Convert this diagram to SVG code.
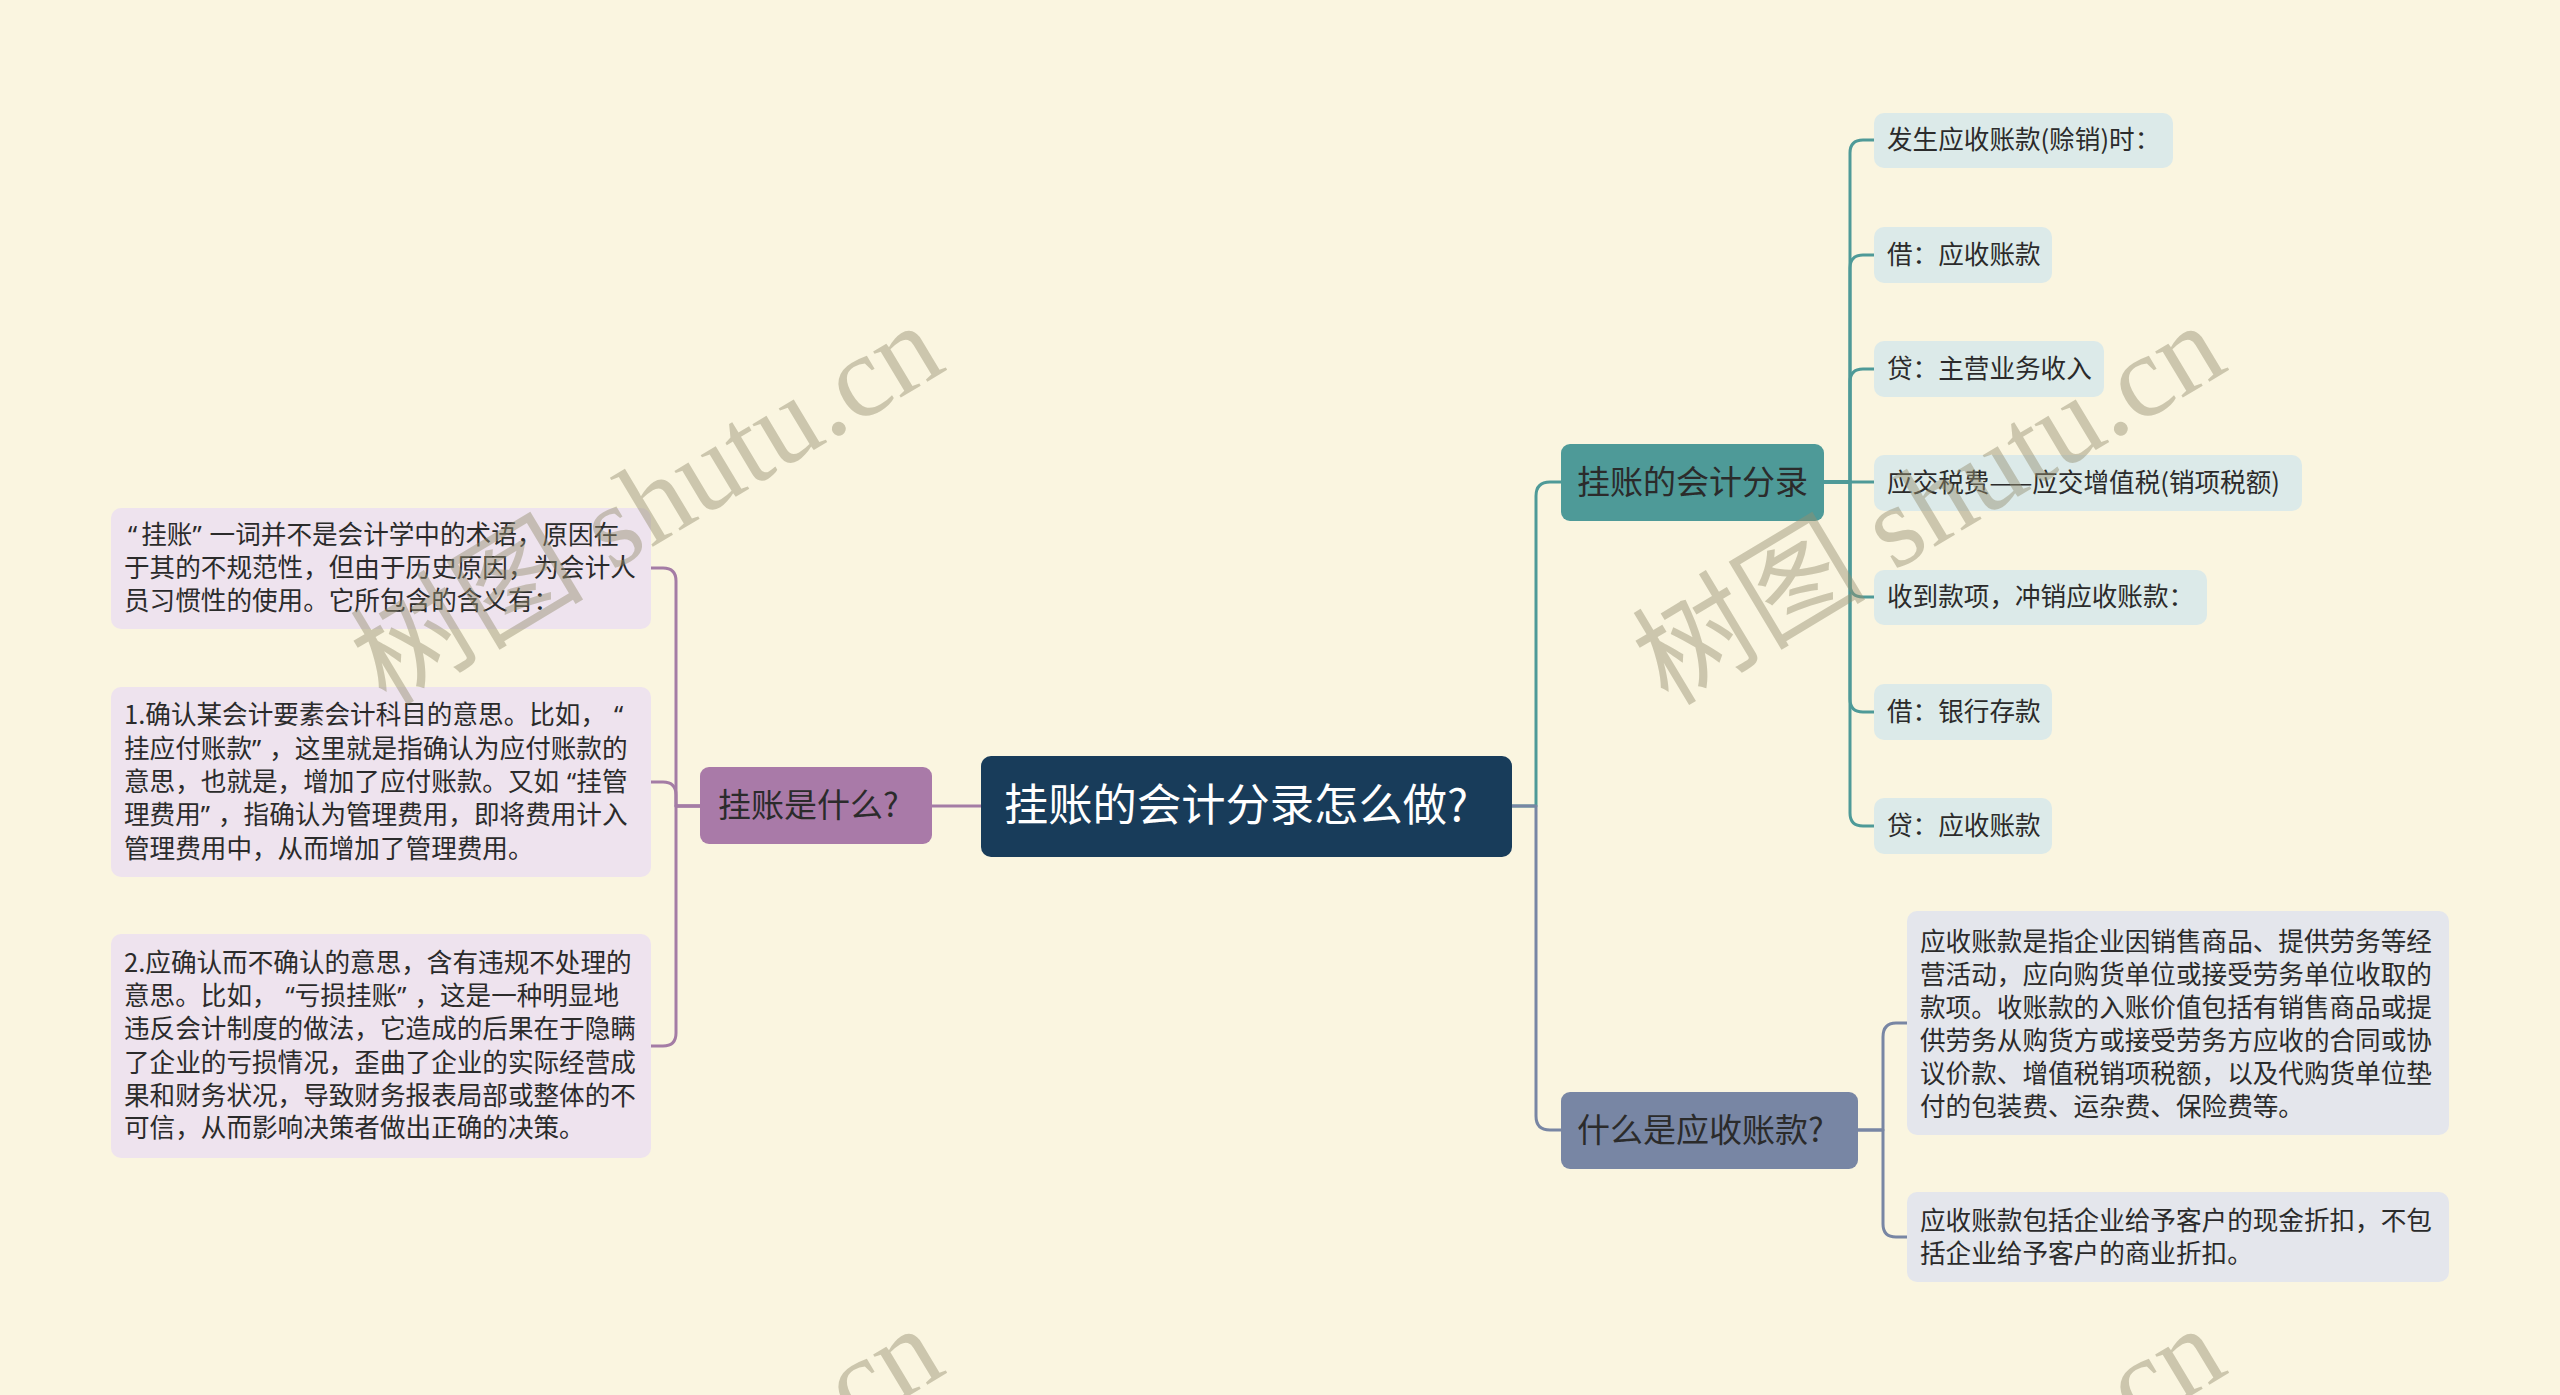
<svg xmlns="http://www.w3.org/2000/svg" width="2560" height="1395" viewBox="0 0 2560 1395">
<defs>
<style>
.bg{fill:#FAF5E0}
.c{fill:none;stroke-width:3;stroke-linejoin:round}
.cp{stroke:#A47CA5}
.ct{stroke:#4E9A98}
.cs{stroke:#7886A4}
.t{font-family:"Noto Sans CJK SC","Noto Sans",sans-serif;fill:#2B2B2B}
.q{font-family:"Noto Sans","Noto Sans CJK SC",sans-serif;letter-spacing:8px}
.qo{font-family:"Noto Sans","Noto Sans CJK SC",sans-serif}
.leaf{font-size:25.6px}
.mid{font-size:33px}
.root{font-size:44.3px;fill:#FFFFFF}
.lp{fill:#EEE3EE}
.lt{fill:#DCEAE9}
.ls{fill:#E4E6EC}
.wm{font-family:"Liberation Serif","Noto Sans CJK SC",serif;font-size:117px;fill:#958F70;opacity:0.45}
</style>
<g id="wmark"><text class="wm" x="0" y="0" transform="rotate(-31)">树图 shutu.cn</text></g>
</defs>
<rect class="bg" x="0" y="0" width="2560" height="1395"/>

<g id="connectors">
<path class="c cp" d="M981,806 L932,806"/>
<path class="c cp" d="M700,806 L676,806 L676,581 Q676,568 663,568 L651,568"/>
<path class="c cp" d="M700,806 L676,806 L676,795 Q676,782 663,782 L651,782"/>
<path class="c cp" d="M700,806 L676,806 L676,1033 Q676,1046 663,1046 L651,1046"/>

<path class="c ct" d="M1512,806 L1536,806 L1536,496 Q1536,482 1550,482 L1561,482"/>
<path class="c cs" d="M1512,806 L1536,806 L1536,1116 Q1536,1130 1550,1130 L1561,1130"/>

<path class="c ct" d="M1824,482 L1850,482 L1850,153 Q1850,140 1863,140 L1874,140"/>
<path class="c ct" d="M1824,482 L1850,482 L1850,268 Q1850,255 1863,255 L1874,255"/>
<path class="c ct" d="M1824,482 L1850,482 L1850,382 Q1850,369 1863,369 L1874,369"/>
<path class="c ct" d="M1824,482 L1874,482"/>
<path class="c ct" d="M1824,482 L1850,482 L1850,584 Q1850,597 1863,597 L1874,597"/>
<path class="c ct" d="M1824,482 L1850,482 L1850,699 Q1850,712 1863,712 L1874,712"/>
<path class="c ct" d="M1824,482 L1850,482 L1850,813 Q1850,826 1863,826 L1874,826"/>

<path class="c cs" d="M1858,1130 L1883,1130 L1883,1037 Q1883,1023 1896,1023 L1907,1023"/>
<path class="c cs" d="M1858,1130 L1883,1130 L1883,1224 Q1883,1237 1896,1237 L1907,1237"/>
</g>

<g id="root">
<rect x="981" y="756" width="531" height="101" rx="10" fill="#183C5A"/>
<text class="t root" x="1004" y="821">挂账的会计分录怎么做?</text>
</g>

<g id="n-left">
<rect x="700" y="767" width="232" height="77" rx="9" fill="#A97AA8"/>
<text class="t mid" x="718" y="817">挂账是什么?</text>
</g>

<g id="l1">
<rect class="lp" x="111" y="508" width="540" height="121" rx="10"/>
<text class="t leaf" x="124" y="544"><tspan class="qo" dx="4">“</tspan><tspan dx="4">挂账</tspan><tspan class="q">”</tspan>一词并不是会计学中的术语，原因在</text>
<text class="t leaf" x="124" y="577">于其的不规范性，但由于历史原因，为会计人</text>
<text class="t leaf" x="124" y="610">员习惯性的使用。它所包含的含义有：</text>
</g>
<g id="l2">
<rect class="lp" x="111" y="687" width="540" height="190" rx="10"/>
<text class="t leaf" x="124" y="724">1.确认某会计要素会计科目的意思。比如，<tspan class="qo" dx="8">“</tspan></text>
<text class="t leaf" x="124" y="758">挂应付账款<tspan class="q">”</tspan>，这里就是指确认为应付账款的</text>
<text class="t leaf" x="124" y="791">意思，也就是，增加了应付账款。又如<tspan class="qo" dx="8">“</tspan>挂管</text>
<text class="t leaf" x="124" y="824">理费用<tspan class="q">”</tspan>，指确认为管理费用，即将费用计入</text>
<text class="t leaf" x="124" y="858">管理费用中，从而增加了管理费用。</text>
</g>
<g id="l3">
<rect class="lp" x="111" y="934" width="540" height="224" rx="10"/>
<text class="t leaf" x="124" y="972">2.应确认而不确认的意思，含有违规不处理的</text>
<text class="t leaf" x="124" y="1005">意思。比如，<tspan class="qo" dx="8">“</tspan>亏损挂账<tspan class="q">”</tspan>，这是一种明显地</text>
<text class="t leaf" x="124" y="1038">违反会计制度的做法，它造成的后果在于隐瞒</text>
<text class="t leaf" x="124" y="1072">了企业的亏损情况，歪曲了企业的实际经营成</text>
<text class="t leaf" x="124" y="1105">果和财务状况，导致财务报表局部或整体的不</text>
<text class="t leaf" x="124" y="1137">可信，从而影响决策者做出正确的决策。</text>
</g>

<g id="n-r1">
<rect x="1561" y="444" width="263" height="77" rx="9" fill="#4E9A98"/>
<text class="t mid" x="1577" y="494">挂账的会计分录</text>
</g>
<g id="n-r2">
<rect x="1561" y="1092" width="297" height="77" rx="9" fill="#7886A4"/>
<text class="t mid" x="1577" y="1142">什么是应收账款?</text>
</g>

<g id="r1a"><rect class="lt" x="1874" y="113" width="299" height="55" rx="10"/><text class="t leaf" x="1887" y="149">发生应收账款(赊销)时：</text></g>
<g id="r1b"><rect class="lt" x="1874" y="227" width="178" height="56" rx="10"/><text class="t leaf" x="1887" y="264">借：应收账款</text></g>
<g id="r1c"><rect class="lt" x="1874" y="341" width="230" height="56" rx="10"/><text class="t leaf" x="1887" y="378">贷：主营业务收入</text></g>
<g id="r1d"><rect class="lt" x="1874" y="455" width="428" height="56" rx="10"/><text class="t leaf" x="1887" y="492">应交税费——应交增值税(销项税额)</text></g>
<g id="r1e"><rect class="lt" x="1874" y="570" width="333" height="55" rx="10"/><text class="t leaf" x="1887" y="606">收到款项，冲销应收账款：</text></g>
<g id="r1f"><rect class="lt" x="1874" y="684" width="178" height="56" rx="10"/><text class="t leaf" x="1887" y="721">借：银行存款</text></g>
<g id="r1g"><rect class="lt" x="1874" y="798" width="178" height="56" rx="10"/><text class="t leaf" x="1887" y="835">贷：应收账款</text></g>

<g id="r2a">
<rect class="ls" x="1907" y="911" width="542" height="224" rx="10"/>
<text class="t leaf" x="1920" y="951">应收账款是指企业因销售商品、提供劳务等经</text>
<text class="t leaf" x="1920" y="984">营活动，应向购货单位或接受劳务单位收取的</text>
<text class="t leaf" x="1920" y="1017">款项。收账款的入账价值包括有销售商品或提</text>
<text class="t leaf" x="1920" y="1050">供劳务从购货方或接受劳务方应收的合同或协</text>
<text class="t leaf" x="1920" y="1083">议价款、增值税销项税额，以及代购货单位垫</text>
<text class="t leaf" x="1920" y="1116">付的包装费、运杂费、保险费等。</text>
</g>
<g id="r2b">
<rect class="ls" x="1907" y="1192" width="542" height="90" rx="10"/>
<text class="t leaf" x="1920" y="1230">应收账款包括企业给予客户的现金折扣，不包</text>
<text class="t leaf" x="1920" y="1263">括企业给予客户的商业折扣。</text>
</g>

<g id="watermarks">
<use href="#wmark" x="386" y="707"/>
<use href="#wmark" x="1668" y="707"/>
<use href="#wmark" x="386" y="1710"/>
<use href="#wmark" x="1668" y="1710"/>
</g>
</svg>
